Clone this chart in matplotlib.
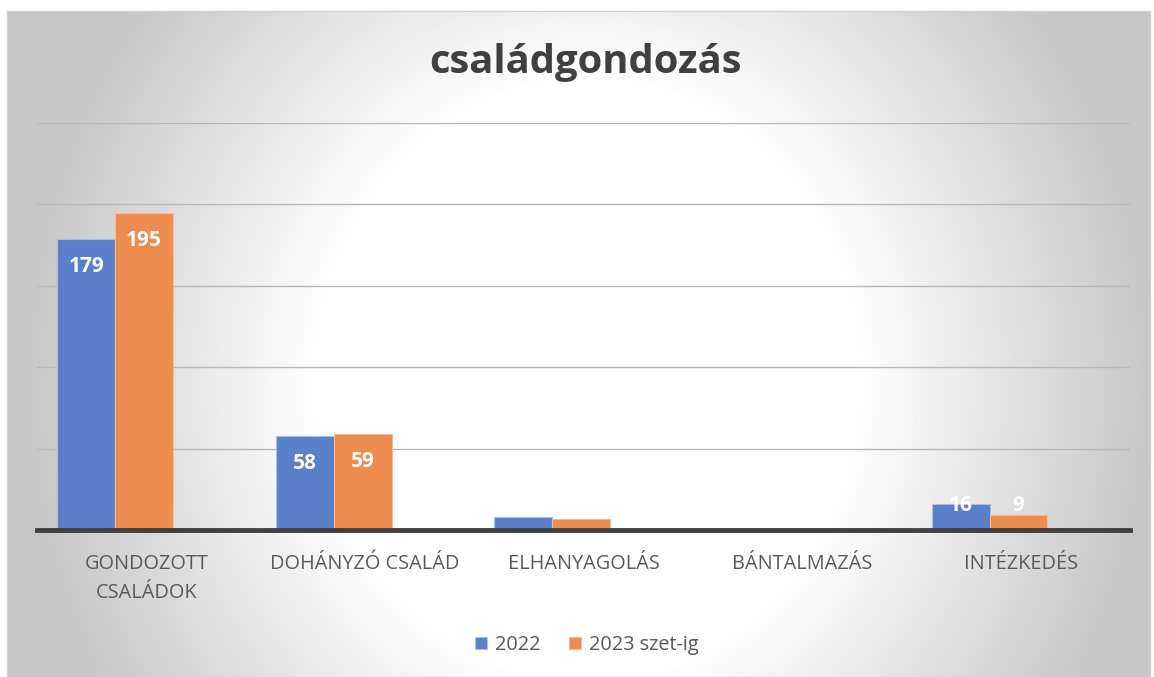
import numpy as np
import matplotlib.pyplot as plt

categories = ["GONDOZOTT\nCSALÁDOK", "DOHÁNYZÓ CSALÁD", "ELHANYAGOLÁS", "BÁNTALMAZÁS", "INTÉZKEDÉS"]
series_names = ["2022", "2023 szet-ig"]
values_2022 = [179, 58, 8, 0, 16]
values_2023 = [195, 59, 7, 0, 9]
title = "családgondozás"

W, H = 1154, 677
fig = plt.figure(figsize=(W / 100, H / 100), dpi=100)
fig.patch.set_facecolor("white")

# background panel with radial gradient
bx0, by0, bx1, by1 = 7, 11, 1150, 677
bg = fig.add_axes([bx0 / W, 1 - by1 / H, (bx1 - bx0) / W, (by1 - by0) / H], zorder=0)
nx, ny = 500, 300
xs = np.linspace(bx0, bx1, nx)
ys = np.linspace(by0, by1, ny)
X, Y = np.meshgrid(xs, ys)
cx, cy = 588, 380
d = np.sqrt(((X - cx) / 566) ** 2 + ((Y - cy) / 619) ** 2)
d0 = 0.48
t = np.clip((d - d0) / (1 - d0), 0, 1)
val = 1.0 - 0.22 * t
img = np.dstack([val, val, val])
bg.imshow(img, aspect="auto", extent=[0, 1, 0, 1], origin="upper", interpolation="bilinear")
bg.set_xlim(0, 1)
bg.set_ylim(0, 1)
bg.set_xticks([])
bg.set_yticks([])
for s in bg.spines.values():
    s.set_color("#d0d0d0")
    s.set_linewidth(1)

# main axes
left, right = 37, 1130
base, top = 530, 123
ax = fig.add_axes([left / W, 1 - base / H, (right - left) / W, (base - top) / H], zorder=1)
ax.patch.set_alpha(0)
x = np.arange(len(categories))
bw = 0.265
off = -0.01
c1, c2 = "#5A80C9", "#EE8C4E"
b1 = ax.bar(x - bw + off, values_2022, bw, color=c1, edgecolor="#a9bfe6", linewidth=0.8, zorder=3)
b2 = ax.bar(x + off, values_2023, bw, color=c2, edgecolor="#f7bb94", linewidth=0.8, zorder=3)
ax.set_xlim(-0.5, len(categories) - 0.5)
ax.set_ylim(0, 250)
ax.set_yticks([50, 100, 150, 200, 250])
ax.yaxis.grid(True, color="#b8b8b8", linewidth=1)
ax.set_axisbelow(True)
ax.tick_params(axis="y", left=False, labelleft=False)
ax.tick_params(axis="x", bottom=False, length=0, pad=17)
ax.set_xticks(x)
ax.set_xticklabels(categories, fontsize=14.3, color="#595959", family="Open Sans",
                   linespacing=1.6, va="top")
for k in ["left", "right", "top"]:
    ax.spines[k].set_visible(False)
ax.spines["bottom"].set_color("#404040")
ax.spines["bottom"].set_linewidth(3.5)
ax.spines["bottom"].set_zorder(4)

for xs_, vals in [(x - bw + off, values_2022), (x + off, values_2023)]:
    for xi, v in zip(xs_, vals):
        ypos = max(v - 17, 15.3)
        ax.text(xi, ypos, str(v), ha="center", va="center", color="white",
                fontsize=15, fontweight="bold", family="Open Sans", zorder=5)

fig.text(585 / W, 1 - 63 / H, title, ha="center", va="center", fontsize=28.8,
         fontweight="bold", color="#404040", family="Open Sans", zorder=2)

leg = ax.legend([b1, b2], series_names, loc="center", bbox_to_anchor=(0.503, (base - 645) / (base - top)),
                ncol=2, frameon=False, fontsize=14.3, handlelength=0.6, handleheight=0.6,
                columnspacing=1.45, handletextpad=0.4)
for t_ in leg.get_texts():
    t_.set_color("#595959")
    t_.set_family("Open Sans")

fig.savefig("out.png", dpi=100)
